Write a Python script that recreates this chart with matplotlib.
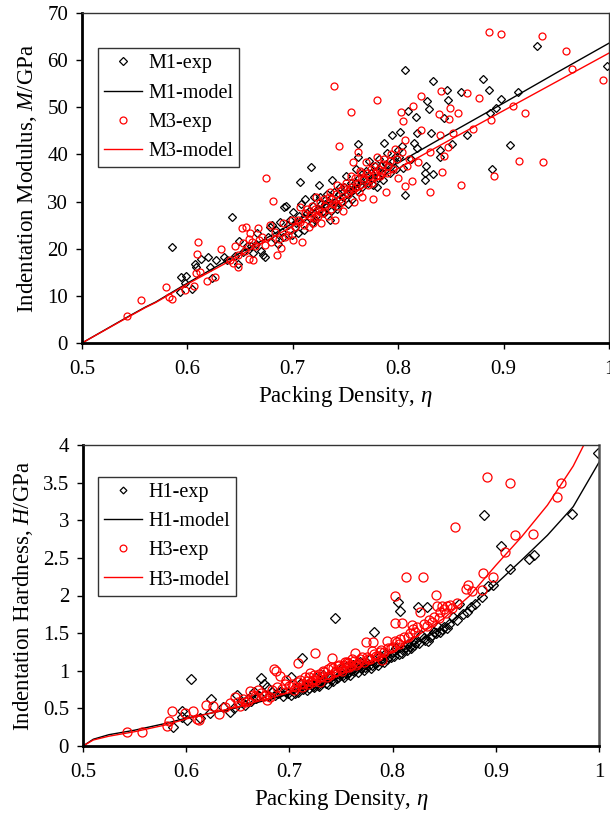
import matplotlib
matplotlib.use("Agg")
import matplotlib.pyplot as plt
import numpy as np

plt.rcParams['font.family'] = ['Liberation Serif', 'DejaVu Serif']
plt.rcParams['mathtext.fontset'] = 'custom'
plt.rcParams['mathtext.rm'] = 'Liberation Serif'
plt.rcParams['mathtext.it'] = 'Liberation Serif:italic'

# ---------------- data: top panel (indentation modulus) ----------------
m1_eta = [0.585,0.593,0.594,0.598,0.599,0.604,0.607,0.608,0.613,0.620,0.621,0.623,0.627,0.635,0.638,0.642,0.648,0.649,0.653,0.660,0.666,0.670,0.672,0.674,0.678,0.680,0.683,0.688,0.690,0.692,0.694,0.697,0.700,0.702,0.705,0.707,0.708,0.710,0.712,0.715,0.717,0.718,0.720,0.722,0.725,0.727,0.730,0.732,0.735,0.737,0.740,0.742,0.745,0.748,0.750,0.752,0.755,0.757,0.760,0.762,0.762,0.764,0.767,0.770,0.772,0.775,0.778,0.780,0.782,0.785,0.787,0.789,0.790,0.794,0.797,0.800,0.802,0.804,0.805,0.806,0.806,0.809,0.812,0.815,0.817,0.818,0.818,0.825,0.825,0.826,0.827,0.829,0.831,0.833,0.833,0.840,0.840,0.843,0.846,0.847,0.851,0.860,0.865,0.880,0.886,0.887,0.889,0.893,0.898,0.906,0.914,0.932,0.998]
m1_val = [20.4,10.8,14.0,12.7,14.2,11.5,16.8,16.2,17.8,18.2,16.1,13.8,17.6,18.2,17.6,26.7,16.8,21.6,19.3,20.5,23.3,19.5,18.7,18.3,24.6,25.0,22.0,25.7,23.5,28.9,29.1,26.0,27.8,24.5,23.3,34.2,29.5,26.5,30.5,28.0,37.3,25.5,31.0,27.0,33.5,29.5,27.5,31.5,26.0,34.5,30.0,28.5,33.0,31.0,35.5,29.5,34.0,32.5,37.0,42.2,39.5,33.5,36.0,34.5,38.5,35.0,37.5,33.0,39.0,36.0,42.4,40.3,37.5,44.1,39.5,41.0,44.8,41.8,37.1,57.9,31.4,49.2,39.0,42.5,47.9,44.5,41.4,36.1,34.6,37.5,51.3,49.6,44.5,55.6,35.9,40.9,39.5,47.7,53.7,51.5,42.2,53.2,44.1,56.0,53.7,48.8,36.9,49.9,51.8,42.0,53.2,63.0,58.8]
# dense core of the M1 cloud
m1_core_eta = [0.645,0.657,0.662,0.665,0.676,0.684,0.686,0.691,0.695,0.699,0.703,0.706,0.711,0.713,0.716,0.719,0.721,0.724,0.726,0.729,0.731,0.734,0.736,0.739,0.741,0.744,0.746,0.749,0.751,0.754,0.756,0.759,0.761,0.763,0.766,0.769,0.771,0.774,0.776,0.779,0.781,0.784,0.786,0.788,0.792,0.795,0.798,0.801]
m1_core_val = [18.5,20.5,19.0,21.0,22.5,24.0,21.0,22.5,25.0,23.0,25.5,27.0,24.0,27.5,26.5,29.0,26.0,28.5,31.0,28.0,29.5,30.0,28.0,32.0,29.0,31.5,30.0,33.0,31.5,32.0,30.5,34.0,32.5,35.0,33.0,36.5,34.0,36.0,33.5,36.5,35.0,37.5,34.5,38.0,36.0,38.5,37.0,39.5]

m3_eta = [0.543,0.556,0.580,0.583,0.585,0.598,0.606,0.608,0.609,0.610,0.612,0.619,0.626,0.632,0.643,0.648,0.648,0.652,0.653,0.656,0.658,0.658,0.659,0.662,0.667,0.668,0.674,0.675,0.678,0.681,0.685,0.689,0.693,0.697,0.700,0.707,0.707,0.709,0.712,0.715,0.718,0.720,0.722,0.725,0.727,0.730,0.733,0.735,0.738,0.739,0.740,0.742,0.744,0.745,0.748,0.750,0.752,0.755,0.755,0.757,0.758,0.760,0.762,0.764,0.766,0.768,0.769,0.771,0.774,0.776,0.778,0.780,0.780,0.783,0.786,0.788,0.790,0.793,0.797,0.800,0.803,0.805,0.806,0.806,0.810,0.813,0.814,0.819,0.822,0.822,0.830,0.830,0.839,0.840,0.841,0.842,0.843,0.847,0.848,0.849,0.852,0.857,0.860,0.865,0.871,0.877,0.886,0.888,0.891,0.898,0.909,0.915,0.920,0.936,0.937,0.959,0.965,0.994]
m3_val = [5.7,9.1,11.9,9.8,9.3,11.2,12.1,14.9,18.9,21.4,15.1,13.2,14.0,19.9,16.9,16.2,18.7,24.4,21.2,24.6,22.0,17.8,23.3,17.6,24.4,21.8,20.8,35.0,25.0,30.1,18.7,20.1,22.5,24.0,21.8,25.7,28.9,21.4,27.5,24.5,29.0,26.5,31.0,28.0,25.5,30.5,27.0,32.0,29.5,54.5,26.0,33.5,41.8,30.5,28.0,34.0,31.5,49.0,35.5,38.4,30.0,33.0,40.5,36.5,31.0,35.0,38.4,33.5,37.0,30.5,36.0,51.5,39.5,35.5,38.0,32.0,37.5,40.0,41.2,35.0,49.0,47.1,43.1,33.3,39.0,34.4,50.3,38.4,52.4,45.2,40.5,32.0,48.6,44.1,53.5,36.3,39.7,41.6,47.5,49.8,44.5,48.8,33.5,53.0,45.4,52.0,66.0,47.3,35.4,65.6,50.3,38.6,48.8,65.1,38.4,61.9,58.1,55.8]
# dense core of the M3 cloud
m3_core_eta = [0.640,0.645,0.655,0.661,0.664,0.671,0.679,0.683,0.687,0.691,0.695,0.699,0.702,0.705,0.711,0.713,0.716,0.719,0.721,0.724,0.726,0.728,0.731,0.734,0.736,0.737,0.741,0.743,0.746,0.747,0.749,0.753,0.756,0.759,0.761,0.763,0.765,0.767,0.770,0.772,0.775,0.777,0.779,0.782,0.785,0.787,0.789,0.792,0.795,0.799,0.804,0.808]
m3_core_val = [17.5,20.5,19.5,21.5,20.5,22.5,21.5,23.5,22.0,25.5,23.0,26.0,24.5,26.0,25.0,28.5,27.0,25.5,28.5,27.0,30.0,27.5,29.0,31.0,28.5,30.5,31.5,29.0,32.5,30.0,33.0,32.5,33.0,35.0,34.0,32.0,36.0,34.5,36.0,35.5,34.0,37.5,35.5,37.0,36.5,39.0,36.0,38.5,37.0,39.0,40.5,37.5]

m_model_eta = [0.5, 0.543, 0.56, 0.57, 0.6, 0.65, 0.7, 0.75, 0.8, 0.85, 0.9, 0.95, 1.0]
m1_model = [0.0, 5.5, 7.6, 8.7, 12.7, 19.1, 25.4, 31.8, 38.2, 44.6, 50.9, 57.3, 63.6]
m3_model = [0.0, 5.4, 7.5, 8.6, 12.5, 18.6, 24.8, 30.9, 37.0, 43.2, 49.3, 55.4, 61.5]

# ---------------- data: bottom panel (indentation hardness) ----------------
h1_eta = [0.587,0.596,0.596,0.601,0.605,0.613,0.623,0.624,0.636,0.642,0.649,0.654,0.660,0.666,0.672,0.675,0.678,0.683,0.689,0.694,0.697,0.702,0.702,0.706,0.710,0.712,0.715,0.717,0.720,0.723,0.726,0.728,0.730,0.733,0.735,0.738,0.740,0.744,0.745,0.747,0.750,0.752,0.755,0.757,0.760,0.762,0.765,0.768,0.770,0.773,0.775,0.778,0.780,0.782,0.785,0.788,0.790,0.793,0.796,0.800,0.803,0.805,0.807,0.809,0.812,0.815,0.818,0.820,0.823,0.825,0.828,0.831,0.833,0.836,0.840,0.844,0.848,0.853,0.859,0.864,0.880,0.887,0.889,0.892,0.897,0.905,0.914,0.932,0.937,0.974,0.999]
h1_val = [0.25,0.39,0.47,0.34,0.89,0.37,0.44,0.62,0.52,0.45,0.68,0.58,0.62,0.72,0.90,0.83,0.78,0.72,0.70,0.67,0.72,0.92,0.68,0.75,0.82,1.17,0.78,0.74,0.85,0.80,0.90,0.81,0.86,0.95,0.84,0.92,0.88,1.70,0.97,0.92,1.02,0.95,1.05,0.98,1.01,1.08,1.04,1.12,1.06,1.05,1.10,1.15,1.08,1.51,1.12,1.20,1.17,1.22,1.18,1.25,1.30,1.91,1.80,1.24,1.32,1.35,1.30,1.40,1.38,1.85,1.47,1.41,1.85,1.45,1.52,1.58,1.55,1.57,1.71,1.89,1.89,1.98,3.07,2.13,2.14,2.66,2.35,2.48,2.54,3.08,3.89]
# dense core of the H1 band
h1_core_eta = [0.646,0.657,0.663,0.668,0.671,0.680,0.686,0.691,0.699,0.705,0.708,0.713,0.716,0.719,0.722,0.724,0.727,0.729,0.732,0.734,0.737,0.739,0.742,0.746,0.749,0.753,0.756,0.759,0.763,0.766,0.769,0.772,0.776,0.779,0.783,0.786,0.789,0.792,0.795,0.798,0.801,0.806,0.810,0.814,0.817,0.821,0.826,0.830,0.834,0.838,0.842,0.846,0.850,0.855,0.862,0.868,0.872,0.876]
h1_core_val = [0.50,0.55,0.60,0.64,0.67,0.66,0.68,0.72,0.70,0.70,0.72,0.76,0.81,0.77,0.82,0.78,0.84,0.80,0.85,0.88,0.83,0.90,0.86,0.90,0.94,0.92,0.96,0.94,1.00,0.98,1.03,1.01,1.06,1.04,1.10,1.08,1.13,1.12,1.15,1.18,1.20,1.22,1.28,1.27,1.33,1.34,1.37,1.43,1.40,1.48,1.50,1.52,1.58,1.62,1.68,1.75,1.78,1.85]

h3_eta = [0.543,0.557,0.581,0.583,0.586,0.599,0.607,0.610,0.612,0.619,0.626,0.632,0.642,0.647,0.652,0.657,0.662,0.665,0.670,0.675,0.678,0.681,0.685,0.687,0.691,0.697,0.700,0.704,0.708,0.708,0.712,0.715,0.718,0.720,0.723,0.725,0.727,0.730,0.733,0.736,0.740,0.741,0.744,0.748,0.751,0.754,0.756,0.758,0.761,0.764,0.766,0.770,0.774,0.776,0.780,0.781,0.784,0.788,0.790,0.795,0.798,0.802,0.802,0.802,0.806,0.809,0.813,0.815,0.819,0.822,0.827,0.829,0.833,0.838,0.842,0.843,0.845,0.848,0.852,0.853,0.858,0.860,0.862,0.871,0.873,0.877,0.887,0.888,0.891,0.897,0.909,0.914,0.919,0.936,0.959,0.963]
h3_val = [0.19,0.19,0.27,0.33,0.47,0.44,0.46,0.36,0.35,0.54,0.53,0.42,0.57,0.65,0.53,0.58,0.73,0.68,0.74,0.66,0.61,0.65,1.02,1.00,0.93,0.88,0.80,0.75,1.10,0.85,0.78,0.92,0.82,0.97,0.88,1.23,0.93,0.85,1.00,0.92,1.05,1.17,0.98,1.08,1.00,1.12,1.12,1.05,1.15,1.23,1.10,1.18,1.38,1.15,1.26,1.38,1.20,1.25,1.14,1.40,1.30,1.40,1.63,1.99,1.35,1.63,2.24,1.45,1.61,1.52,1.78,2.24,1.60,1.65,2.01,1.86,1.70,1.86,1.77,1.86,1.83,2.91,1.90,2.08,2.14,2.06,2.07,2.30,3.57,2.24,2.58,3.49,2.80,2.82,3.31,3.49]
# dense core of the H3 band
h3_core_eta = [0.638,0.650,0.655,0.660,0.667,0.672,0.677,0.683,0.688,0.693,0.696,0.703,0.706,0.710,0.713,0.717,0.719,0.722,0.724,0.726,0.729,0.731,0.734,0.737,0.739,0.742,0.745,0.747,0.750,0.753,0.755,0.757,0.760,0.763,0.765,0.768,0.772,0.775,0.778,0.782,0.786,0.789,0.792,0.796,0.800,0.804,0.807,0.811,0.817,0.820,0.824,0.830,0.835,0.840,0.846,0.850,0.856]
h3_core_val = [0.52,0.58,0.62,0.60,0.66,0.70,0.68,0.74,0.78,0.76,0.82,0.82,0.78,0.88,0.83,0.86,0.92,0.85,0.95,0.88,0.96,0.92,0.98,1.02,0.95,1.03,1.00,1.06,1.04,1.08,1.05,1.10,1.08,1.13,1.07,1.15,1.12,1.18,1.16,1.22,1.20,1.28,1.25,1.30,1.32,1.38,1.42,1.45,1.50,1.55,1.58,1.62,1.68,1.72,1.78,1.82,1.88]

h_model_eta = [0.5, 0.51, 0.525, 0.55, 0.58, 0.6, 0.65, 0.7, 0.75, 0.8, 0.85, 0.875, 0.9, 0.925, 0.95, 0.975, 1.0]
h1_model = [0.0, 0.09, 0.15, 0.21, 0.30, 0.37, 0.51, 0.69, 0.91, 1.19, 1.58, 1.85, 2.15, 2.47, 2.80, 3.18, 3.77]
h3_model = [0.0, 0.08, 0.13, 0.19, 0.28, 0.36, 0.52, 0.71, 0.95, 1.25, 1.70, 2.00, 2.40, 2.78, 3.20, 3.72, 4.40]

x_ticks = [0.5, 0.6, 0.7, 0.8, 0.9, 1.0]
x_tick_labels = ['0.5', '0.6', '0.7', '0.8', '0.9', '1']
m_ticks = [0, 10, 20, 30, 40, 50, 60, 70]
h_ticks = [0, 0.5, 1, 1.5, 2, 2.5, 3, 3.5, 4]
h_tick_labels = ['0', '0.5', '1', '1.5', '2', '2.5', '3', '3.5', '4']

fig = plt.figure(figsize=(6.10, 8.22), dpi=100)
ax1 = fig.add_axes([82/610, 1-343/822, 527/610, 330/822])
ax2 = fig.add_axes([83/610, 1-746/822, 516/610, 301/822])

TS = 15
LS = 16.5
LEG = 14.5

def style(ax):
    for s in ['left', 'bottom']:
        ax.spines[s].set_linewidth(2.0)
        ax.spines[s].set_color('black')
    for s in ['top', 'right']:
        ax.spines[s].set_linewidth(1.0)
        ax.spines[s].set_color('#333333')
    ax.tick_params(axis='both', direction='out', length=4, width=1.0,
                   labelsize=TS, color='black')
    ax.tick_params(axis='y', pad=6)
    ax.tick_params(axis='x', pad=8)

leg_kw = dict(loc='upper left', borderaxespad=0, fontsize=LEG, frameon=True,
              fancybox=False, edgecolor='black', handlelength=1.9,
              handletextpad=0.3, labelspacing=0.5, borderpad=0.3)

# top panel
ax1.plot(m1_eta + m1_core_eta, m1_val + m1_core_val, linestyle='none', marker='D',
         ms=3.6, mfc='none', mec='black', mew=0.9, label='M1-exp')
ax1.plot(m_model_eta, m1_model, color='black', lw=1.0, label='M1-model')
ax1.plot(m3_eta + m3_core_eta, m3_val + m3_core_val, linestyle='none', marker='o',
         ms=5.0, mfc='none', mec='red', mew=0.9, label='M3-exp')
ax1.plot(m_model_eta, m3_model, color='red', lw=1.0, label='M3-model')
ax1.set_xlim(0.5, 1.0)
ax1.set_ylim(0, 70)
ax1.set_xticks(x_ticks)
ax1.set_xticklabels(x_tick_labels)
ax1.set_yticks(m_ticks)
style(ax1)
ax1.set_xlabel(r'Packing Density, $\eta$', fontsize=LS, labelpad=4)
ax1.set_ylabel(r'Indentation Modulus, $M$/GPa', fontsize=LS, labelpad=6)
leg1 = ax1.legend(bbox_to_anchor=(0.03, 0.893), markerscale=1.0, **leg_kw)
leg1.get_frame().set_linewidth(1.0)

# bottom panel
ax2.plot(h1_eta + h1_core_eta, h1_val + h1_core_val, linestyle='none', marker='D',
         ms=4.6, mfc='none', mec='black', mew=0.9, label='H1-exp')
ax2.plot(h_model_eta, h1_model, color='black', lw=1.0, label='H1-model')
ax2.plot(h3_eta + h3_core_eta, h3_val + h3_core_val, linestyle='none', marker='o',
         ms=6.5, mfc='none', mec='red', mew=0.9, label='H3-exp')
ax2.plot(h_model_eta, h3_model, color='red', lw=1.0, label='H3-model')
ax2.set_xlim(0.5, 1.0)
ax2.set_ylim(0, 4)
ax2.set_xticks(x_ticks)
ax2.set_xticklabels(x_tick_labels)
ax2.set_yticks(h_ticks)
ax2.set_yticklabels(h_tick_labels)
style(ax2)
ax2.spines['right'].set_color('#555555')
ax2.spines['right'].set_linewidth(1.8)
ax2.set_xlabel(r'Packing Density, $\eta$', fontsize=LS, labelpad=4)
ax2.set_ylabel(r'Indentation Hardness, $H$/GPa', fontsize=LS, labelpad=6)
leg2 = ax2.legend(bbox_to_anchor=(0.029, 0.894), markerscale=0.75, **leg_kw)
leg2.get_frame().set_linewidth(1.0)

fig.savefig('out.png', dpi=100)
